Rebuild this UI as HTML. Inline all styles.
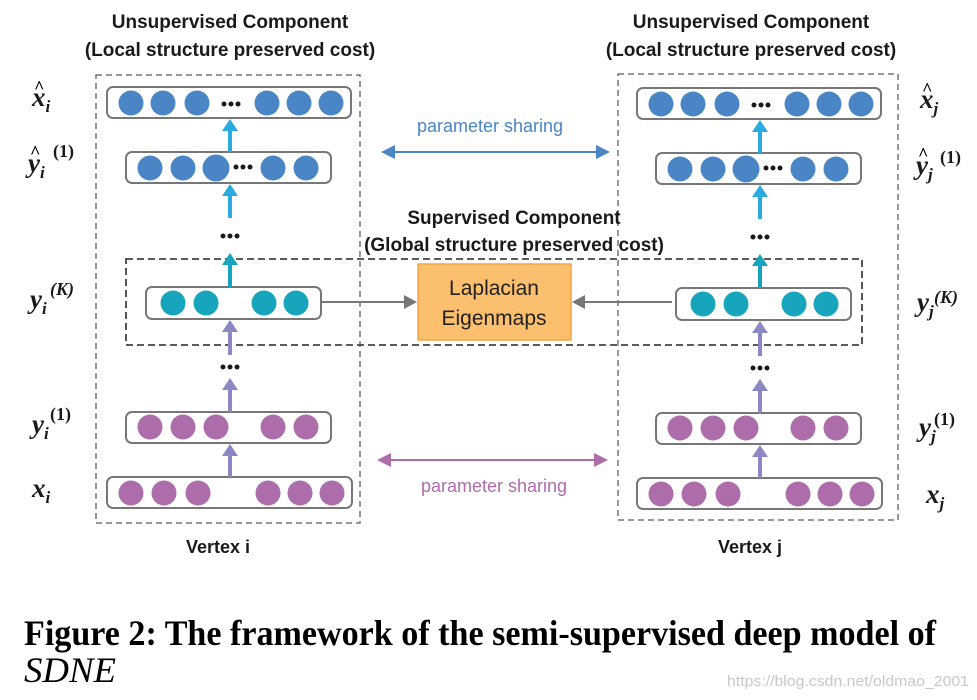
<!DOCTYPE html>
<html><head><meta charset="utf-8"><style>
html,body{margin:0;padding:0;background:#fff;}
svg{display:block;}
.t{font-family:"Liberation Sans",sans-serif;font-weight:bold;font-size:19px;fill:#1a1a1a;text-anchor:middle;}
.m{font-family:"Liberation Serif",serif;font-weight:bold;font-style:italic;font-size:27px;fill:#1a1a1a;}
.s{font-family:"Liberation Serif",serif;font-weight:bold;font-size:18px;fill:#1a1a1a;}
</style></head><body>
<svg width="977" height="700" viewBox="0 0 977 700" xmlns="http://www.w3.org/2000/svg">
<defs>
<g id="col">
  <g fill="#fff" stroke="#777" stroke-width="2">
    <rect x="107" y="87" width="244" height="31" rx="6"/>
    <rect x="126" y="152" width="205" height="31" rx="6"/>
    <rect x="146" y="287" width="175" height="32" rx="6"/>
    <rect x="126" y="412" width="205" height="31" rx="6"/>
    <rect x="107" y="477" width="245" height="31" rx="6"/>
  </g>
  <g fill="#4a86c5">
    <circle cx="131" cy="103" r="12.5"/><circle cx="163" cy="103" r="12.5"/><circle cx="197" cy="103" r="12.5"/>
    <circle cx="267" cy="103" r="12.5"/><circle cx="299" cy="103" r="12.5"/><circle cx="331" cy="103" r="12.5"/>
    <circle cx="150" cy="168" r="12.5"/><circle cx="183" cy="168" r="12.5"/><circle cx="216" cy="168" r="13.5"/>
    <circle cx="273" cy="168" r="12.5"/><circle cx="306" cy="168" r="12.5"/>
  </g>
  <g fill="#17a5be">
    <circle cx="173" cy="303" r="12.5"/><circle cx="206" cy="303" r="12.5"/>
    <circle cx="264" cy="303" r="12.5"/><circle cx="296" cy="303" r="12.5"/>
  </g>
  <g fill="#ad6dab">
    <circle cx="150" cy="427" r="12.5"/><circle cx="183" cy="427" r="12.5"/><circle cx="216" cy="427" r="12.5"/>
    <circle cx="273" cy="427" r="12.5"/><circle cx="306" cy="427" r="12.5"/>
    <circle cx="131" cy="493" r="12.5"/><circle cx="164" cy="493" r="12.5"/><circle cx="198" cy="493" r="12.5"/>
    <circle cx="268" cy="493" r="12.5"/><circle cx="300" cy="493" r="12.5"/><circle cx="332" cy="493" r="12.5"/>
  </g>
  <g fill="#1a1a1a">
    <circle cx="224" cy="104" r="2.5"/><circle cx="231" cy="104" r="2.5"/><circle cx="238" cy="104" r="2.5"/>
    <circle cx="236" cy="167" r="2.5"/><circle cx="243" cy="167" r="2.5"/><circle cx="250" cy="167" r="2.5"/>
    <circle cx="223" cy="236" r="2.5"/><circle cx="230" cy="236" r="2.5"/><circle cx="237" cy="236" r="2.5"/>
    <circle cx="223" cy="367" r="2.5"/><circle cx="230" cy="367" r="2.5"/><circle cx="237" cy="367" r="2.5"/>
  </g>
  <g fill="#29abe2">
    <path d="M228 152 V131 H222 L230 119 L238 131 H232 V152Z"/>
    <path d="M228 218 V196 H222 L230 184 L238 196 H232 V218Z"/>
  </g>
  <path fill="#17a5be" d="M228 287 V265 H222 L230 253 L238 265 H232 V287Z"/>
  <g fill="#8c88c4">
    <path d="M228 355 V332 H222 L230 320 L238 332 H232 V355Z"/>
    <path d="M228 412 V390 H222 L230 378 L238 390 H232 V412Z"/>
    <path d="M228 477 V456 H222 L230 444 L238 456 H232 V477Z"/>
  </g>
</g>
</defs>

<g fill="none" stroke="#777" stroke-width="1.5" stroke-dasharray="6,4">
  <rect x="96" y="75" width="264" height="448"/>
  <rect x="618" y="74" width="280" height="446"/>
</g>
<rect x="126" y="259" width="736" height="86" fill="none" stroke="#444" stroke-width="1.8" stroke-dasharray="7,4"/>

<use href="#col"/>
<use href="#col" transform="translate(530,1)"/>

<rect x="418" y="264" width="153" height="76" fill="#fbbf6e" stroke="#f4a540" stroke-width="1.5"/>
<text x="494" y="295" font-family="Liberation Sans,sans-serif" font-size="21" fill="#222" text-anchor="middle">Laplacian</text>
<text x="494" y="325" font-family="Liberation Sans,sans-serif" font-size="21" fill="#222" text-anchor="middle">Eigenmaps</text>
<g stroke="#777" stroke-width="2"><line x1="321" y1="302" x2="406" y2="302"/><line x1="672" y1="302" x2="584" y2="302"/></g>
<g fill="#777"><path d="M417 302 L404 295 L404 309Z"/><path d="M572 302 L585 295 L585 309Z"/></g>

<text x="490" y="132" font-family="Liberation Sans,sans-serif" font-size="18" fill="#4a86c5" text-anchor="middle">parameter sharing</text>
<line x1="392" y1="152" x2="600" y2="152" stroke="#4a86c5" stroke-width="2"/>
<path fill="#4a86c5" d="M381 152 L395 145 L395 159Z M610 152 L596 145 L596 159Z"/>
<line x1="388" y1="460" x2="598" y2="460" stroke="#ad6dab" stroke-width="2"/>
<path fill="#ad6dab" d="M377 460 L391 453 L391 467Z M608 460 L594 453 L594 467Z"/>
<text x="494" y="492" font-family="Liberation Sans,sans-serif" font-size="18" fill="#ad6dab" text-anchor="middle">parameter sharing</text>

<text class="t" x="230" y="28">Unsupervised Component</text>
<text class="t" x="230" y="56">(Local structure preserved cost)</text>
<text class="t" x="751" y="28">Unsupervised Component</text>
<text class="t" x="751" y="56">(Local structure preserved cost)</text>
<text class="t" x="514" y="224">Supervised Component</text>
<text class="t" x="514" y="251">(Global structure preserved cost)</text>
<text class="t" x="218" y="553" style="font-size:18px">Vertex i</text>
<text class="t" x="750" y="553" style="font-size:18px">Vertex j</text>

<text class="m" x="32" y="106">x<tspan font-size="17" dy="6">i</tspan></text>
<text x="34" y="93" font-family="Liberation Serif" font-size="18" font-weight="bold">^</text>
<text class="m" x="28" y="172">y<tspan font-size="17" dy="6">i</tspan></text>
<text x="30" y="158" font-family="Liberation Serif" font-size="18" font-weight="bold">^</text>
<text class="s" x="53" y="157">(1)</text>
<text class="m" x="30" y="308">y<tspan font-size="17" dy="6">i</tspan></text>
<text class="s" x="50" y="295" font-style="italic">(K)</text>
<text class="m" x="32" y="433">y<tspan font-size="17" dy="6">i</tspan></text>
<text class="s" x="50" y="420">(1)</text>
<text class="m" x="32" y="497">x<tspan font-size="17" dy="6">i</tspan></text>

<text class="m" x="920" y="108">x<tspan font-size="17" dy="6">j</tspan></text>
<text x="922" y="95" font-family="Liberation Serif" font-size="18" font-weight="bold">^</text>
<text class="m" x="916" y="174">y<tspan font-size="17" dy="6">j</tspan></text>
<text x="918" y="160" font-family="Liberation Serif" font-size="18" font-weight="bold">^</text>
<text class="s" x="940" y="163">(1)</text>
<text class="m" x="917" y="311">y<tspan font-size="17" dy="6">j</tspan></text>
<text class="s" x="934" y="303" font-style="italic">(K)</text>
<text class="m" x="919" y="436">y<tspan font-size="17" dy="6">j</tspan></text>
<text class="s" x="934" y="425">(1)</text>
<text class="m" x="926" y="503">x<tspan font-size="17" dy="6">j</tspan></text>

<text x="24" y="645" font-family="Liberation Serif,serif" font-weight="bold" font-size="36" fill="#000" textLength="912" lengthAdjust="spacingAndGlyphs">Figure 2: The framework of the semi-supervised deep model of</text>
<text x="24" y="682" font-family="Liberation Serif,serif" font-style="italic" font-size="36" fill="#000" textLength="92" lengthAdjust="spacingAndGlyphs">SDNE</text>
<text x="727" y="686" font-family="Liberation Sans,sans-serif" font-size="15" fill="#c8c8c8" textLength="242" lengthAdjust="spacingAndGlyphs">https://blog.csdn.net/oldmao_2001</text>
</svg>
</body></html>
